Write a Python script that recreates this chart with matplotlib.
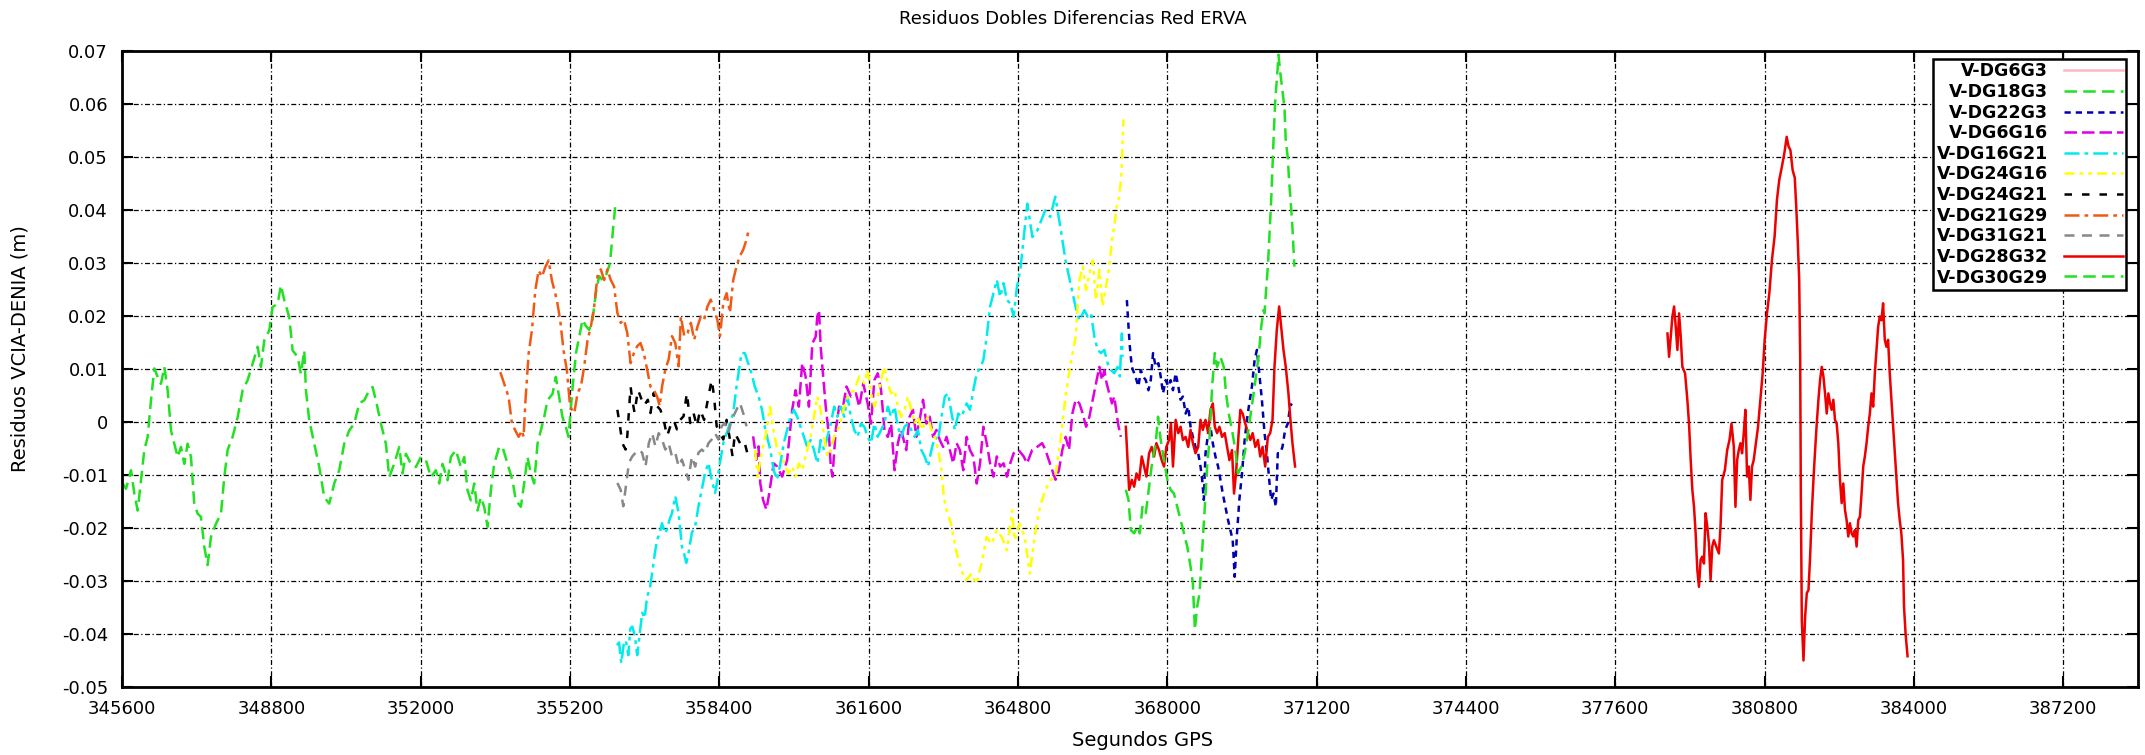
import numpy as np
import matplotlib
matplotlib.use("Agg")
import matplotlib.pyplot as plt

# ---------------- data (seconds GPS, residuals in m) ----------------
labels = ["V-DG6G3", "V-DG18G3", "V-DG22G3", "V-DG6G16", "V-DG16G21", "V-DG24G16",
          "V-DG24G21", "V-DG21G29", "V-DG31G21", "V-DG28G32", "V-DG30G29"]

x_6g3 = []
y_6g3 = []

x_18g3 = [345614, 345686, 345793, 345864, 345936, 346007, 346078, 346150, 346221, 346293,
          346364, 346435, 346507, 346578, 346650, 346721, 346792, 346864, 346935, 347007,
          347078, 347149, 347221, 347292, 347364, 347435, 347506, 347613, 347721, 347792,
          347863, 347970, 348078, 348185, 348292, 348399, 348506, 348577, 348649, 348756,
          348827, 348934, 349006, 349077, 349184, 349256, 349363, 349434, 349506, 349541,
          349613, 349720, 349827, 349934, 350041, 350148, 350255, 350362, 350469, 350577,
          350684, 350791, 350898, 350969, 351041, 351148, 351255, 351326, 351433, 351541,
          351612, 351683, 351790, 351897, 352005, 352112, 352219, 352326, 352397, 352469,
          352576, 352647, 352754, 352861, 352933, 353004, 353076, 353147, 353218, 353290,
          353361, 353433, 353504, 353575, 353682, 353754, 353861, 353968, 354039, 354147,
          354218, 354289, 354361, 354432, 354504, 354575, 354646, 354718, 354825, 354896,
          354968, 355039, 355110, 355168,
          355257, 355328, 355399, 355470, 355541, 355612, 355683, 355754, 355825, 355896,
          355966, 356058, 356108, 356179]
y_18g3 = [-0.0116, -0.0126, -0.0091, -0.0135, -0.0167, -0.0110, -0.0053, -0.0028, 0.0041, 0.0101,
          0.0085, 0.0072, 0.0104, 0.0060, -0.0016, -0.0041, -0.0066, -0.0047, -0.0079, -0.0041,
          -0.0066, -0.0154, -0.0173, -0.0179, -0.0236, -0.0270, -0.0217, -0.0192, -0.0173, -0.0104,
          -0.0053, -0.0028, 0.0009, 0.0060, 0.0079, 0.0110, 0.0142, 0.0104, 0.0154, 0.0173,
          0.0217, 0.0223, 0.0258, 0.0230, 0.0198, 0.0135, 0.0123, 0.0091, 0.0135, 0.0060,
          0.0003, -0.0041, -0.0085, -0.0142, -0.0154, -0.0116, -0.0091, -0.0041, -0.0016, -0.0003,
          0.0035, 0.0041, 0.0060, 0.0066, 0.0041, -0.0003, -0.0041, -0.0104, -0.0079, -0.0047,
          -0.0097, -0.0060, -0.0079, -0.0085, -0.0066, -0.0072, -0.0104, -0.0091, -0.0116, -0.0079,
          -0.0110, -0.0066, -0.0053, -0.0085, -0.0066, -0.0129, -0.0148, -0.0116, -0.0167, -0.0142,
          -0.0160, -0.0198, -0.0129, -0.0079, -0.0047, -0.0047, -0.0079, -0.0110, -0.0148, -0.0160,
          -0.0116, -0.0066, -0.0097, -0.0116, -0.0041, -0.0016, 0.0009, 0.0041, 0.0053, 0.0085,
          0.0047, 0.0009, -0.0009, -0.0028,
          0.0067, 0.0130, 0.0162, 0.0193, 0.0181, 0.0174, 0.0193, 0.0243, 0.0275, 0.0268,
          0.0275, 0.0300, 0.0350, 0.0416]

x_22g3 = [367133, 367168, 367197, 367239, 367289, 367339, 367381, 367431, 367481, 367538,
          367595, 367645, 367694, 367751, 367808, 367858, 367908, 367964, 368021, 368071,
          368121, 368178, 368235, 368284, 368334, 368391, 368448, 368498, 368547, 368604,
          368661, 368711, 368747, 368782, 368818, 368875, 368924, 368974, 369031, 369088,
          369138, 369188, 369244, 369301, 369351, 369401, 369443, 369493, 369543, 369600,
          369657, 369706, 369756, 369813, 369870, 369920, 369970, 370026, 370083, 370133,
          370183, 370225, 370275, 370325, 370367, 370418, 370467, 370524, 370581, 370631,
          370666]
y_22g3 = [0.0230, 0.0180, 0.0142, 0.0104, 0.0092, 0.0079, 0.0067, 0.0098, 0.0086, 0.0079,
          0.0060, 0.0079, 0.0130, 0.0104, 0.0111, 0.0086, 0.0054, 0.0079, 0.0067, 0.0079,
          0.0060, 0.0092, 0.0067, 0.0042, 0.0048, 0.0016, 0.0029, -0.0009, -0.0028, -0.0047,
          -0.0059, -0.0084, -0.0109, -0.0147, -0.0059, -0.0021, -0.0009, -0.0040, -0.0065, -0.0084,
          -0.0109, -0.0135, -0.0160, -0.0185, -0.0204, -0.0223, -0.0292, -0.0210, -0.0147, -0.0097,
          -0.0034, 0.0004, 0.0035, 0.0067, 0.0117, 0.0136, 0.0092, 0.0042, -0.0021, -0.0059,
          -0.0109, -0.0147, -0.0135, -0.0160, -0.0059, -0.0059, -0.0047, -0.0015, -0.0003, 0.0029,
          0.0035]

x_6g16 = [359124, 359195, 359240, 359278, 359337, 359408, 359457, 359565, 359637, 359745,
          359853, 359961, 360033, 360104, 360176, 360248, 360320, 360392, 360464, 360500,
          360536, 360572, 360608, 360680, 360752, 360788, 360824, 360895, 360967, 361039,
          361125, 361219, 361327, 361399, 361485, 361578, 361650, 361722, 361794, 361866,
          361938, 362010, 362082, 362154, 362226, 362297, 362405, 362477, 362549, 362621,
          362693, 362765, 362837, 362908, 362980, 363052, 363124, 363196, 363268, 363340,
          363412, 363484, 363555, 363627, 363699, 363771, 363843, 363915, 363987, 364058,
          364130, 364202, 364274, 364346, 364418, 364490, 364562, 364634, 364706, 364814,
          364922, 364994, 365102, 365210, 365317, 365389, 365461, 365533, 365605, 365677,
          365749, 365821, 365893, 365965, 366037, 366116, 366187, 366259, 366330, 366401,
          366472, 366543, 366600, 366649, 366699, 366756, 366813, 366863, 366913, 366955,
          367005]
y_6g16 = [-0.0027, -0.0071, -0.0046, -0.0116, -0.0147, -0.0165, -0.0141, -0.0078, -0.0084, -0.0103,
          -0.0072, 0.0023, 0.0060, 0.0029, 0.0111, 0.0086, 0.0029, 0.0148, 0.0161, 0.0199,
          0.0211, 0.0142, 0.0104, 0.0029, -0.0028, -0.0084, -0.0103, -0.0015, 0.0029, 0.0023,
          0.0067, 0.0048, 0.0054, 0.0029, 0.0073, 0.0035, -0.0003, 0.0079, 0.0092, 0.0060,
          -0.0015, -0.0028, -0.0003, -0.0091, -0.0040, -0.0015, -0.0053, 0.0010, 0.0023, -0.0028,
          0.0004, 0.0042, -0.0003, 0.0010, -0.0028, -0.0015, -0.0034, -0.0047, -0.0028, -0.0053,
          -0.0078, -0.0040, -0.0053, -0.0091, -0.0028, -0.0053, -0.0065, -0.0116, -0.0078, -0.0009,
          -0.0040, -0.0078, -0.0103, -0.0065, -0.0084, -0.0078, -0.0103, -0.0078, -0.0059, -0.0053,
          -0.0065, -0.0078, -0.0053, -0.0047, -0.0040, -0.0053, -0.0072, -0.0091, -0.0109, -0.0091,
          -0.0053, -0.0028, -0.0053, 0.0016, 0.0042, 0.0035, 0.0016, -0.0009, 0.0010, 0.0042,
          0.0073, 0.0104, 0.0079, 0.0098, 0.0073, 0.0054, 0.0035, 0.0048, 0.0016, -0.0009,
          -0.0028]

x_16g21 = [356205, 356252, 356300, 356350, 356396, 356450, 356492, 356534, 356590, 356640,
           356700, 356747, 356800, 356853, 356910, 356960, 357018, 357066, 357114, 357172,
           357230, 357279, 357330, 357385, 357456, 357527, 357598, 357650, 357690, 357740,
           357811, 357882, 357953, 358024, 358095, 358166, 358237, 358308, 358360, 358400,
           358485, 358556, 358627, 358698, 358769, 358875, 358946, 359017, 359088, 359159,
           359242, 359314, 359386, 359494, 359565, 359637, 359709, 359781, 359853, 359925,
           359997, 360069, 360141, 360213, 360284, 360356, 360428, 360500, 360572, 360644,
           360716, 360788, 360860, 360931, 361003, 361075, 361147, 361219, 361291, 361363,
           361435, 361507, 361578, 361650, 361722, 361794, 361866, 361938, 362010, 362082,
           362154, 362226, 362297, 362369, 362441, 362513, 362585, 362657, 362729, 362800,
           362872, 362944, 363016, 363088, 363160, 363232, 363304, 363376, 363448, 363520,
           363591, 363699, 363771, 363843, 363915, 363987, 364058, 364130, 364202, 364274,
           364346, 364418, 364490, 364562, 364634, 364706, 364778, 364850, 364999, 365108,
           365217, 365381, 365490, 365599, 365708, 365817, 365926, 366035, 366116, 366223,
           366294, 366365, 366436, 366507, 366578, 366649, 366720, 366791, 366862, 366934,
           366983, 367026, 367040]
y_16g21 = [-0.0421, -0.0416, -0.0455, -0.0420, -0.0412, -0.0440, -0.0390, -0.0386, -0.0403, -0.0440,
           -0.0395, -0.0360, -0.0370, -0.0329, -0.0315, -0.0285, -0.0248, -0.0222, -0.0212, -0.0191,
           -0.0210, -0.0203, -0.0185, -0.0172, -0.0140, -0.0172, -0.0235, -0.0250, -0.0266, -0.0247,
           -0.0209, -0.0197, -0.0159, -0.0128, -0.0096, -0.0077, -0.0109, -0.0134, -0.0110, -0.0084,
           -0.0040, -0.0021, -0.0002, 0.0017, 0.0067, 0.0130, 0.0130, 0.0111, 0.0092, 0.0067,
           0.0048, 0.0023, -0.0015, -0.0053, -0.0091, -0.0109, -0.0078, -0.0040, -0.0015, 0.0010,
           0.0023, 0.0010, -0.0009, -0.0028, -0.0047, -0.0034, -0.0053, -0.0078, -0.0034, -0.0053,
           -0.0028, -0.0003, 0.0029, 0.0010, 0.0029, 0.0010, 0.0048, 0.0010, -0.0015, -0.0028,
           -0.0003, -0.0009, -0.0028, -0.0040, -0.0003, -0.0028, -0.0015, -0.0003, 0.0029, 0.0010,
           0.0029, -0.0009, -0.0028, -0.0009, -0.0003, -0.0015, -0.0028, -0.0015, -0.0053, -0.0065,
           -0.0084, -0.0053, -0.0028, -0.0034, 0.0010, 0.0048, 0.0054, 0.0016, -0.0015, 0.0016,
           0.0010, 0.0035, 0.0023, 0.0060, 0.0092, 0.0101, 0.0117, 0.0161, 0.0218, 0.0243,
           0.0268, 0.0236, 0.0262, 0.0230, 0.0224, 0.0199, 0.0255, 0.0287, 0.0412, 0.0349,
           0.0362, 0.0399, 0.0387, 0.0425, 0.0368, 0.0305, 0.0261, 0.0217, 0.0192, 0.0211,
           0.0199, 0.0205, 0.0161, 0.0136, 0.0130, 0.0136, 0.0111, 0.0098, 0.0092, 0.0104,
           0.0086, 0.0167, 0.0123]

x_24g16 = [359168, 359222, 359300, 359386, 359486, 359558, 359630, 359700, 359767, 359876,
           359961, 360033, 360104, 360176, 360260, 360356, 360428, 360500, 360572, 360644,
           360716, 360788, 360860, 360967, 361075, 361183, 361291, 361399, 361507, 361578,
           361650, 361722, 361794, 361866, 361938, 362010, 362082, 362154, 362226, 362297,
           362369, 362441, 362513, 362585, 362657, 362729, 362800, 362872, 362944, 363016,
           363088, 363160, 363210, 363268, 363364, 363473, 363582, 363691, 363800, 363909,
           364018, 364127, 364236, 364345, 364454, 364563, 364672, 364726, 364835, 364944,
           365054, 365163, 365272, 365381, 365490, 365599, 365708, 365817, 365926, 366035,
           366116, 366187, 366259, 366330, 366401, 366472, 366543, 366614, 366685, 366756,
           366813, 366862, 366912, 366955, 367005, 367026, 367040, 367061]
y_24g16 = [-0.0053, -0.0104, -0.0060, -0.0028, 0.0029, -0.0015, -0.0047, -0.0060, -0.0072, -0.0097,
           -0.0084, -0.0103, -0.0078, -0.0091, -0.0060, -0.0028, 0.0010, 0.0048, 0.0023, -0.0028,
           -0.0065, -0.0053, -0.0028, -0.0009, 0.0029, 0.0054, 0.0060, 0.0086, 0.0073, 0.0098,
           0.0054, 0.0029, 0.0048, 0.0079, 0.0104, 0.0073, 0.0054, 0.0060, 0.0029, 0.0010,
           0.0023, 0.0048, 0.0023, -0.0003, 0.0010, -0.0015, -0.0003, 0.0010, -0.0015, -0.0028,
           -0.0053, -0.0091, -0.0141, -0.0166, -0.0192, -0.0242, -0.0280, -0.0299, -0.0286, -0.0305,
           -0.0267, -0.0217, -0.0230, -0.0204, -0.0217, -0.0242, -0.0167, -0.0223, -0.0192, -0.0217,
           -0.0286, -0.0211, -0.0160, -0.0129, -0.0110, -0.0104, -0.0035, 0.0047, 0.0110, 0.0160,
           0.0268, 0.0293, 0.0249, 0.0280, 0.0305, 0.0230, 0.0287, 0.0218, 0.0255, 0.0293,
           0.0343, 0.0368, 0.0405, 0.0418, 0.0455, 0.0487, 0.0531, 0.0571]

x_24g21 = [356215, 356271, 356321, 356392, 356427, 356498, 356534, 356584, 356655, 356711,
           356782, 356867, 356924, 356995, 357066, 357137, 357208, 357279, 357350, 357421,
           357492, 357563, 357634, 357705, 357776, 357847, 357918, 357989, 358074, 358166,
           358237, 358287, 358343, 358414, 358485, 358556, 358627, 358684, 358733, 358804,
           358875, 358946, 359017]
y_24g21 = [0.0023, -0.0008, -0.0040, -0.0052, -0.0027, 0.0067, 0.0042, 0.0017, 0.0061, 0.0048,
           0.0030, 0.0042, 0.0017, 0.0055, 0.0030, 0.0023, 0.0004, -0.0027, -0.0008, 0.0004,
           -0.0014, 0.0004, 0.0011, 0.0055, -0.0002, 0.0017, -0.0008, 0.0023, 0.0004, 0.0048,
           0.0080, 0.0048, -0.0008, -0.0021, -0.0033, 0.0004, -0.0033, -0.0065, -0.0021, -0.0033,
           -0.0046, -0.0040, -0.0065]

x_21g29 = [353707, 353814, 353885, 353956, 354028, 354099, 354170, 354206, 354242, 354313,
           354384, 354456, 354527, 354598, 354669, 354741, 354812, 354919, 354990, 355062,
           355133, 355204, 355292, 355363, 355434, 355505, 355576, 355647, 355718, 355789,
           355860, 355931, 356002, 356073, 356144, 356215, 356286, 356356, 356427, 356498,
           356569, 356640, 356711, 356782, 356853, 356924, 356995, 357066, 357122, 357172,
           357243, 357314, 357385, 357456, 357527, 357577, 357648, 357719, 357790, 357861,
           357932, 358003, 358074, 358145, 358216, 358287, 358357, 358414, 358485, 358556,
           358627, 358698, 358769, 358840, 358911, 358982, 359038]
y_21g29 = [0.0094, 0.0066, 0.0047, -0.0003, -0.0016, -0.0028, -0.0016, -0.0028, 0.0035, 0.0129,
           0.0173, 0.0248, 0.0286, 0.0274, 0.0292, 0.0305, 0.0267, 0.0230, 0.0192, 0.0135,
           0.0097, 0.0028, 0.0017, 0.0055, 0.0067, 0.0105, 0.0155, 0.0180, 0.0218, 0.0275,
           0.0288, 0.0268, 0.0288, 0.0268, 0.0256, 0.0206, 0.0187, 0.0193, 0.0168, 0.0111,
           0.0130, 0.0143, 0.0149, 0.0130, 0.0099, 0.0067, 0.0061, 0.0048, 0.0030, 0.0067,
           0.0099, 0.0118, 0.0162, 0.0149, 0.0105, 0.0199, 0.0162, 0.0168, 0.0187, 0.0155,
           0.0180, 0.0199, 0.0193, 0.0218, 0.0231, 0.0212, 0.0193, 0.0162, 0.0225, 0.0243,
           0.0206, 0.0268, 0.0294, 0.0313, 0.0325, 0.0344, 0.0366]

x_31g21 = [356215, 356286, 356342, 356463, 356534, 356605, 356675, 356746, 356818, 356889,
           356960, 357030, 357101, 357172, 357243, 357314, 357385, 357456, 357527, 357598,
           357669, 357740, 357811, 357882, 357953, 358024, 358095, 358166, 358237, 358308,
           358379, 358450, 358521, 358592, 358663, 358734, 358840, 358911, 358982]
y_31g21 = [-0.0115, -0.0128, -0.0159, -0.0077, -0.0065, -0.0058, -0.0052, -0.0058, -0.0084, -0.0040,
           -0.0021, -0.0046, -0.0021, -0.0033, -0.0052, -0.0040, -0.0065, -0.0058, -0.0084, -0.0071,
           -0.0090, -0.0109, -0.0065, -0.0084, -0.0058, -0.0052, -0.0058, -0.0040, -0.0033, -0.0021,
           -0.0033, -0.0008, -0.0002, -0.0021, 0.0004, 0.0017, 0.0036, 0.0017, -0.0008]

x_28g32_a = [367111, 367147, 367182, 367239, 367289, 367339, 367396, 367452, 367502, 367552,
             367609, 367666, 367716, 367765, 367822, 367879, 367929, 367979, 368036, 368078,
             368121, 368178, 368235, 368284, 368334, 368391, 368448, 368498, 368547, 368604,
             368661, 368711, 368761, 368818, 368875, 368924, 368974, 369017, 369067, 369117,
             369173, 369230, 369280, 369330, 369386, 369429, 369472, 369514, 369564, 369614,
             369671, 369728, 369778, 369828, 369885, 369941, 369991, 370041, 370097, 370154,
             370204, 370254, 370296, 370346, 370396, 370439, 370489, 370538, 370595, 370638,
             370681, 370723, 370737]
y_28g32_a = [-0.0009, -0.0072, -0.0128, -0.0109, -0.0122, -0.0097, -0.0109, -0.0065, -0.0084, -0.0103,
             -0.0059, -0.0047, -0.0065, -0.0040, -0.0053, -0.0072, -0.0084, -0.0047, -0.0034, -0.0003,
             -0.0084, 0.0004, -0.0021, -0.0009, -0.0034, -0.0028, -0.0047, -0.0015, -0.0040, -0.0059,
             -0.0047, 0.0004, -0.0015, 0.0004, -0.0021, 0.0023, 0.0035, -0.0009, -0.0021, -0.0009,
             -0.0028, -0.0021, -0.0047, -0.0072, -0.0053, -0.0135, -0.0097, -0.0040, 0.0023, 0.0016,
             -0.0003, -0.0021, -0.0034, -0.0021, -0.0047, -0.0034, -0.0065, -0.0047, -0.0084, -0.0028,
             -0.0021, 0.0004, 0.0104, 0.0174, 0.0218, 0.0180, 0.0136, 0.0104, 0.0054, 0.0004,
             -0.0040, -0.0072, -0.0084]

x_28g32_b = [378717, 378752, 378788, 378823, 378859, 378894, 378930, 378966, 379001, 379037,
             379094, 379143, 379179, 379215, 379250, 379286, 379321, 379357, 379392, 379428,
             379463, 379499, 379534, 379570, 379606, 379641, 379677, 379712, 379762, 379819,
             379854, 379890, 379947, 379997, 380046, 380089, 380139, 380174, 380210, 380245,
             380281, 380316, 380352, 380387, 380423, 380458, 380494, 380529, 380565, 380601,
             380658, 380708, 380757, 380800, 380850, 380900, 380956, 381013, 381063, 381113,
             381170, 381227, 381272, 381312, 381352, 381400, 381445, 381480, 381511, 381540,
             381561, 381575, 381596, 381632, 381667, 381703, 381739, 381774, 381810, 381845,
             381881, 381916, 381952, 381987, 382023, 382059, 382094, 382130, 382165, 382201,
             382236, 382272, 382307, 382343, 382378, 382414, 382450, 382485, 382521, 382556,
             382592, 382627, 382663, 382698, 382734, 382770, 382805, 382841, 382876, 382912,
             382947, 382983, 383018, 383054, 383089, 383125, 383161, 383196, 383232, 383267,
             383303, 383338, 383374, 383409, 383445, 383480, 383516, 383552, 383587, 383623,
             383658, 383694, 383729, 383765, 383786, 383820, 383862]
y_28g32_b = [0.0167, 0.0123, 0.0161, 0.0199, 0.0218, 0.0180, 0.0136, 0.0205, 0.0161, 0.0104,
             0.0092, 0.0042, -0.0003, -0.0072, -0.0128, -0.0160, -0.0210, -0.0279, -0.0311, -0.0260,
             -0.0254, -0.0267, -0.0172, -0.0197, -0.0229, -0.0298, -0.0235, -0.0223, -0.0235, -0.0248,
             -0.0197, -0.0109, -0.0091, -0.0053, -0.0034, -0.0003, -0.0047, -0.0160, -0.0072, -0.0053,
             -0.0040, -0.0059, -0.0021, 0.0023, -0.0103, -0.0084, -0.0147, -0.0084, -0.0072, -0.0047,
             -0.0009, 0.0042, 0.0092, 0.0155, 0.0205, 0.0243, 0.0306, 0.0350, 0.0419, 0.0457,
             0.0482, 0.0510, 0.0538, 0.0520, 0.0513, 0.0475, 0.0461, 0.0400, 0.0337, 0.0268,
             0.0123, -0.0135, -0.0374, -0.0450, -0.0367, -0.0323, -0.0317, -0.0254, -0.0172, -0.0109,
             -0.0053, -0.0003, 0.0042, 0.0079, 0.0104, 0.0086, 0.0054, 0.0016, 0.0054, 0.0035,
             0.0023, 0.0042, 0.0004, -0.0003, -0.0040, -0.0109, -0.0153, -0.0116, -0.0166, -0.0185,
             -0.0216, -0.0191, -0.0210, -0.0216, -0.0204, -0.0235, -0.0185, -0.0179, -0.0135, -0.0084,
             -0.0065, -0.0040, -0.0009, 0.0016, 0.0054, 0.0029, 0.0092, 0.0136, 0.0180, 0.0199,
             0.0192, 0.0224, 0.0155, 0.0142, 0.0155, 0.0092, 0.0042, -0.0009, -0.0059, -0.0109,
             -0.0153, -0.0185, -0.0210, -0.0260, -0.0348, -0.0400, -0.0442]

x_30g29 = [367111, 367168, 367218, 367289, 367360, 367410, 367467, 367538, 367609, 367680,
           367751, 367801, 367858, 367929, 368000, 368071, 368142, 368213, 368284, 368356,
           368427, 368498, 368547, 368590, 368640, 368690, 368747, 368803, 368853, 368903,
           368960, 369017, 369067, 369138, 369209, 369258, 369315, 369386, 369458, 369514,
           369586, 369657, 369728, 369799, 369870, 369955, 370012, 370062, 370083, 370112,
           370154, 370183, 370225, 370275, 370311, 370354, 370382, 370418, 370468, 370510,
           370538, 370581, 370609, 370652, 370680, 370723]
y_30g29 = [-0.0128, -0.0147, -0.0204, -0.0210, -0.0197, -0.0210, -0.0160, -0.0172, -0.0122, -0.0072,
           -0.0040, 0.0010, -0.0034, -0.0072, -0.0109, -0.0128, -0.0135, -0.0160, -0.0185, -0.0210,
           -0.0235, -0.0273, -0.0304, -0.0392, -0.0348, -0.0323, -0.0242, -0.0160, -0.0084, -0.0034,
           0.0067, 0.0130, 0.0104, 0.0123, 0.0104, 0.0054, 0.0016, -0.0015, -0.0053, -0.0097,
           -0.0084, -0.0059, -0.0021, 0.0023, 0.0067, 0.0123, 0.0180, 0.0211, 0.0205, 0.0243,
           0.0293, 0.0343, 0.0418, 0.0530, 0.0605, 0.0655, 0.0693, 0.0661, 0.0624, 0.0593,
           0.0530, 0.0499, 0.0455, 0.0405, 0.0368, 0.0293]

x_ticks = list(range(345600, 387201, 3200))
y_ticks = [0.07, 0.06, 0.05, 0.04, 0.03, 0.02, 0.01, 0.0, -0.01, -0.02, -0.03, -0.04, -0.05]
y_tick_labels = ["0.07", "0.06", "0.05", "0.04", "0.03", "0.02", "0.01", "0",
                 "-0.01", "-0.02", "-0.03", "-0.04", "-0.05"]

# ---------------- figure ----------------
W, H = 2145, 755
fig = plt.figure(figsize=(W / 100, H / 100), dpi=100)
plt.rcParams['font.family'] = ['DejaVu Sans']
L, R, T, B = 122, 2138, 51, 687
ax = fig.add_axes([L / W, 1 - B / H, (R - L) / W, (B - T) / H])

x_28g32 = x_28g32_a + [np.nan] + x_28g32_b
y_28g32 = y_28g32_a + [np.nan] + y_28g32_b

series = [
    (x_6g3, y_6g3, '#ffb6c1', '-'),
    (x_18g3, y_18g3, '#22e022', (0, (5, 2.5))),
    (x_22g3, y_22g3, '#0000b0', (0, (2.5, 2))),
    (x_6g16, y_6g16, '#e000e0', (0, (5, 2))),
    (x_16g21, y_16g21, '#00ecec', (0, (6, 2, 1.5, 2))),
    (x_24g16, y_24g16, '#ffff00', (0, (4, 2, 1.5, 2, 1.5, 2))),
    (x_24g21, y_24g21, '#000000', (0, (3, 4))),
    (x_21g29, y_21g29, '#f05a14', (0, (6, 2, 1.5, 2))),
    (x_31g21, y_31g21, '#888888', (0, (4, 3))),
    (x_28g32, y_28g32, '#ee0000', '-'),
    (x_30g29, y_30g29, '#22e022', (0, (5, 2.5))),
]
for (xs, ys, col, ls), lab in zip(series, labels):
    ax.plot(xs, ys, color=col, linestyle=ls, linewidth=1.8, label=lab)

ax.set_xlim(345600, 388800)
ax.set_ylim(-0.05, 0.07)
ax.set_xticks(x_ticks)
ax.set_xticklabels([str(v) for v in x_ticks])
ax.set_yticks(y_ticks)
ax.set_yticklabels(y_tick_labels)

ax.grid(True, color='black', linestyle=(0, (4, 2, 1, 2)), linewidth=0.9)
ax.tick_params(direction='in', length=8, width=1.5, top=True, right=True,
               labelsize=13, colors='black')
ax.tick_params(axis='y', pad=10)
ax.tick_params(axis='x', pad=9)
for sp in ax.spines.values():
    sp.set_linewidth(2.0)
    sp.set_color('black')

leg = ax.legend(loc='upper right', bbox_to_anchor=((2126 - L) / (R - L), (B - 59) / (B - T)),
                markerfirst=False, frameon=True, fancybox=False,
                prop={'size': 12.5, 'weight': 'bold'},
                edgecolor='black', framealpha=1, borderpad=0.2, labelspacing=0.15,
                handlelength=3.4, handletextpad=0.9, borderaxespad=0)
leg.get_frame().set_linewidth(1.8)

fig.text(0.5, 1 - 19 / H, "Residuos Dobles Diferencias Red ERVA", ha='center', va='center',
         fontsize=13)
fig.text(835 / 1568, 1 - 740 / H, "Segundos GPS", ha='center', va='center', fontsize=14)
fig.text(20 / W, 1 - 349 / H, "Residuos VCIA-DENIA (m)", ha='center', va='center',
         rotation=90, fontsize=14)

fig.savefig("out.png", dpi=100)
